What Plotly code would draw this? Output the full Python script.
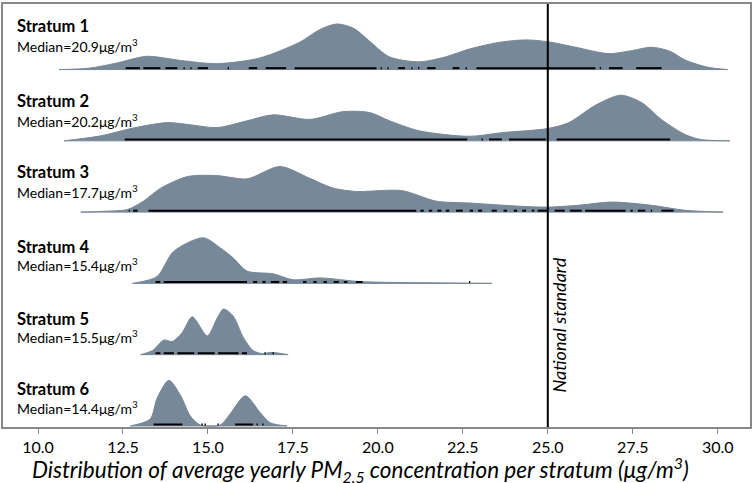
import plotly.graph_objects as go

strata = ['Stratum 1', 'Stratum 2', 'Stratum 3', 'Stratum 4', 'Stratum 5', 'Stratum 6']
medians = [20.9, 20.2, 17.7, 15.4, 15.5, 14.4]
national_standard = 25.0

# density outlines (x in ug/m3, relative height 0-1)
x1 = [10.62, 11.5, 12.3, 13.2, 14.2, 15.27, 16.5, 17.7, 18.3, 18.8, 19.3, 19.76, 20.34, 21.22, 22.0, 22.69, 23.6, 24.36, 25.0, 25.82, 26.79, 27.5, 28.05, 28.6, 29.04, 29.72, 30.3]
y1 = [0.0, 0.03, 0.14, 0.29, 0.2, 0.13, 0.25, 0.6, 0.88, 1.0, 0.9, 0.62, 0.28, 0.17, 0.28, 0.45, 0.6, 0.65, 0.61, 0.49, 0.35, 0.42, 0.49, 0.4, 0.21, 0.05, 0.0]
x2 = [10.77, 11.85, 12.8, 13.8, 14.5, 15.27, 16.1, 16.92, 18.0, 18.97, 19.76, 20.34, 21.22, 22.69, 23.65, 25.0, 25.62, 26.4, 27.14, 27.76, 28.34, 29.04, 29.5, 30.36]
y2 = [0.0, 0.11, 0.28, 0.4, 0.35, 0.29, 0.43, 0.57, 0.47, 0.64, 0.62, 0.44, 0.22, 0.1, 0.18, 0.27, 0.4, 0.78, 1.0, 0.84, 0.47, 0.14, 0.03, 0.0]
x3 = [11.26, 12.0, 12.64, 13.1, 13.6, 14.4, 15.27, 16.15, 17.12, 18.0, 18.67, 19.4, 19.76, 20.72, 21.72, 22.69, 24.15, 25.0, 25.9, 26.88, 28.05, 29.04, 30.16]
y3 = [0.0, 0.02, 0.06, 0.24, 0.52, 0.78, 0.8, 0.73, 1.0, 0.74, 0.53, 0.45, 0.46, 0.47, 0.24, 0.2, 0.13, 0.11, 0.15, 0.22, 0.15, 0.04, 0.0]
x4 = [12.78, 13.5, 13.99, 14.86, 15.36, 15.74, 16.15, 16.92, 17.5, 18.3, 19.46, 20.5, 22.0, 23.36]
y4 = [0.0, 0.15, 0.7, 1.0, 0.78, 0.56, 0.27, 0.21, 0.08, 0.12, 0.04, 0.02, 0.01, 0.0]
x5 = [13.02, 13.37, 13.7, 13.95, 14.24, 14.54, 14.98, 15.27, 15.46, 15.74, 16.04, 16.33, 16.62, 16.83, 17.36]
y5 = [0.0, 0.09, 0.32, 0.29, 0.48, 0.83, 0.41, 0.8, 1.0, 0.85, 0.38, 0.09, 0.02, 0.05, 0.0]
x6 = [12.72, 13.3, 13.5, 13.85, 14.2, 14.48, 14.78, 15.36, 15.65, 16.1, 16.53, 16.83, 17.33]
y6 = [0.0, 0.15, 0.6, 1.0, 0.66, 0.22, 0.02, 0.02, 0.26, 0.66, 0.3, 0.07, 0.0]

# rug marks: runs of observations (start, end); start == end is a single site
rug1 = [(12.58, 13.0), (13.1, 13.6), (13.75, 14.1), (14.3, 14.3), (14.5, 14.5), (14.7, 15.0), (15.6, 15.6),
        (16.2, 16.45), (16.7, 17.3), (17.55, 19.96), (20.1, 20.1), (20.3, 20.3), (20.6, 20.8), (21.0, 21.0),
        (21.2, 21.2), (21.45, 21.7), (22.2, 22.4), (22.6, 22.6), (22.9, 26.4), (26.55, 26.55), (26.8, 27.2),
        (27.6, 28.35)]
rug2 = [(12.55, 22.63), (23.07, 23.07), (23.27, 23.65), (23.86, 24.94), (25.26, 28.6)]
rug3 = [(12.67, 12.7), (12.8, 12.93), (13.25, 21.13), (21.25, 21.35), (21.5, 21.6), (21.75, 21.87), (22.0, 22.1),
        (22.3, 22.5), (22.7, 22.8), (22.95, 23.07), (23.35, 23.5), (23.7, 23.8), (24.0, 24.1), (24.25, 24.36),
        (24.53, 24.6), (24.7, 25.0), (25.2, 25.5), (25.65, 26.0), (26.1, 27.29), (27.43, 27.5), (27.65, 27.87),
        (28.05, 28.05), (28.34, 28.7)]
rug4 = [(13.46, 13.6), (13.7, 16.15), (16.33, 16.45), (16.6, 16.7), (16.85, 17.1), (17.2, 17.33), (17.8, 17.9),
        (18.1, 18.2), (18.4, 18.5), (18.7, 18.85), (19.0, 19.1), (19.35, 19.55), (22.7, 22.7)]
rug5 = [(13.46, 13.6), (13.7, 14.0), (14.1, 14.6), (14.7, 15.2), (15.3, 15.9), (16.0, 16.15), (16.68, 16.68),
        (16.92, 16.92)]
rug6 = [(13.4, 14.25), (14.83, 14.83), (14.92, 14.92), (15.3, 15.3), (15.8, 16.33), (16.45, 16.45), (16.62, 16.62)]

xs = [x1, x2, x3, x4, x5, x6]
ys = [y1, y2, y3, y4, y5, y6]
rugs = [rug1, rug2, rug3, rug4, rug5, rug6]

fill_col = '#778899'
scale = 0.64
font = 'Lato'
title_off = [0.613, 0.557, 0.557, 0.515, 0.501, 0.515]
median_off = [0.334, 0.292, 0.292, 0.265, 0.251, 0.265]

fig = go.Figure()
for i, name in enumerate(strata):
    base = len(strata) - 1 - i
    xv = xs[i]
    fig.add_trace(go.Scatter(x=[xv[0], xv[-1]], y=[base, base], mode='lines',
                             line=dict(color=fill_col, width=1), showlegend=False, hoverinfo='skip'))
    fig.add_trace(go.Scatter(x=xv, y=[base + v * scale for v in ys[i]], mode='lines',
                             line=dict(color=fill_col, width=1, shape='spline', smoothing=0.8),
                             fill='tonexty', fillcolor=fill_col, showlegend=False, name=name))
    rx, ry = [], []
    for a, b in rugs[i]:
        if a == b:
            a, b = a - 0.02, b + 0.02
        rx += [a, b, None]
        ry += [base + 0.02, base + 0.02, None]
    fig.add_trace(go.Scatter(x=rx, y=ry, mode='lines', line=dict(color='black', width=2),
                             showlegend=False, hoverinfo='skip'))
    fig.add_annotation(x=9.32, y=base + title_off[i], xref='x', yref='y', text='<b>%s</b>' % name,
                       showarrow=False, xanchor='left', yanchor='middle',
                       font=dict(family=font, size=16.5, color='black'))
    fig.add_annotation(x=9.32, y=base + median_off[i], xref='x', yref='y',
                       text='Median=%.1fμg/m<sup>3</sup>' % medians[i],
                       showarrow=False, xanchor='left', yanchor='middle',
                       font=dict(family=font, size=14, color='black'))

fig.add_shape(type='line', x0=national_standard, x1=national_standard, y0=0, y1=1, xref='x', yref='paper',
              line=dict(color='black', width=2))
fig.add_annotation(x=national_standard + 0.32, y=1.42, xref='x', yref='y', text='<i>National standard</i>',
                   textangle=-90, showarrow=False, font=dict(family=font, size=18, color='black'))

fig.add_annotation(x=0.036, y=-0.1, xref='paper', yref='paper', xanchor='left', yanchor='middle',
                   text='<i>Distribution of average yearly PM<sub>2.5</sub> concentration per stratum (μg/m<sup>3</sup>)</i>',
                   showarrow=False, font=dict(family=font, size=22.5, color='black'))

fig.update_layout(
    width=754, height=483,
    margin=dict(l=3, r=2, t=2, b=56),
    plot_bgcolor='white', paper_bgcolor='white',
    font=dict(family=font, color='black'),
    xaxis=dict(range=[8.97, 30.95], tickvals=[10, 12.5, 15, 17.5, 20, 22.5, 25, 27.5, 30],
               ticktext=['10.0', '12.5', '15.0', '17.5', '20.0', '22.5', '25.0', '27.5', '30.0'],
               ticks='outside', ticklen=5, tickcolor='#888888', showgrid=False, zeroline=False,
               showline=True, linecolor='#888888', linewidth=1.5, mirror=True,
               tickfont=dict(size=16)),
    yaxis=dict(range=[-0.015, 5.92], showticklabels=False, showgrid=False, zeroline=False,
               showline=True, linecolor='#888888', linewidth=1.5, mirror=True, ticks=''),
)

fig.write_html("out.html", config={'displayModeBar': False},
               post_script="document.body.style.margin='0';")
